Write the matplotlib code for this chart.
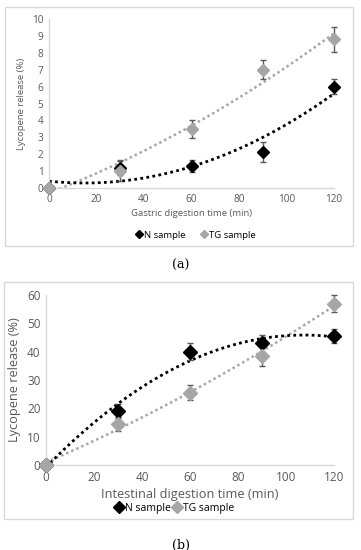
import matplotlib.pyplot as plt
import numpy as np
from matplotlib.lines import Line2D
from matplotlib.patches import Rectangle

# digestion time points (min)
time = [0, 30, 60, 90, 120]

# (a) gastric phase
gas_n = [0, 1.2, 1.3, 2.15, 6.0]
gas_n_err = [0, 0.45, 0.35, 0.6, 0.45]
gas_tg = [0, 1.0, 3.5, 7.0, 8.8]
gas_tg_err = [0, 0.6, 0.55, 0.55, 0.75]

# (b) intestinal phase
int_n = [0, 19.0, 40.0, 43.0, 45.5]
int_n_err = [0, 2.5, 3.0, 3.0, 2.5]
int_tg = [0, 14.5, 25.5, 38.5, 57.0]
int_tg_err = [0, 2.5, 2.7, 3.5, 3.0]

BLACK = "#000000"
GREY = "#a6a6a6"
ERR = "#595959"
AXIS = "#d9d9d9"
TXT = "#595959"


def draw_panel(ax, n, n_err, tg, tg_err, ymax, ystep, xlabel, fs, ms, lab_fs):
    xs = np.linspace(0, 120, 200)
    for vals, col, lw in [(tg, GREY, 1.8), (n, BLACK, 2.0)]:
        coef = np.polyfit(time, vals, 2)
        ax.plot(xs, np.polyval(coef, xs), linestyle=(0, (1, 1.2)), color=col, lw=lw, zorder=2)
    for vals, errs, col in [(n, n_err, BLACK), (tg, tg_err, GREY)]:
        ax.errorbar(time, vals, yerr=errs, fmt="D", ms=ms, color=col, ecolor=ERR,
                    elinewidth=1, capsize=2.5, capthick=1, zorder=3, clip_on=False)
    ax.set_xlim(0, 120)
    ax.set_ylim(0, ymax)
    ax.set_xticks(range(0, 121, 20))
    ax.set_yticks(np.arange(0, ymax + 0.1, ystep))
    for s in ["top", "right"]:
        ax.spines[s].set_visible(False)
    for s in ["left", "bottom"]:
        ax.spines[s].set_color(AXIS)
        ax.spines[s].set_linewidth(1)
    ax.tick_params(length=0, labelsize=fs, colors=TXT, pad=4)
    ax.set_xlabel(xlabel, fontsize=lab_fs, color=TXT, labelpad=3)
    ax.set_ylabel("Lycopene release (%)", fontsize=lab_fs, color=TXT)


def handles(ms):
    return [Line2D([], [], marker="D", ls="none", color=BLACK, ms=ms, label="N sample"),
            Line2D([], [], marker="D", ls="none", color=GREY, ms=ms, label="TG sample")]


plt.rcParams["font.family"] = ["Open Sans", "DejaVu Sans"]
fig = plt.figure(figsize=(3.61, 5.5), dpi=100)

# panel frames
fig.patches.append(Rectangle((5 / 361, 1 - 246 / 550), 348 / 361, 239 / 550,
                             transform=fig.transFigure, fill=False, ec=AXIS, lw=1))
fig.patches.append(Rectangle((4 / 361, 1 - 519 / 550), 349 / 361, 237 / 550,
                             transform=fig.transFigure, fill=False, ec=AXIS, lw=1))

ax1 = fig.add_axes([49 / 361, 1 - 188 / 550, 285 / 361, 169 / 550])
draw_panel(ax1, gas_n, gas_n_err, gas_tg, gas_tg_err, 10, 1,
           "Gastric digestion time (min)", 7.2, 6, 6.8)
ax1.legend(handles=handles(4), loc="center", bbox_to_anchor=(195 / 361, 1 - 235 / 550),
           bbox_transform=fig.transFigure, ncol=2, frameon=False, fontsize=6.8,
           handletextpad=0.1, columnspacing=1.4, handlelength=1, borderpad=0)

ax2 = fig.add_axes([46 / 361, 1 - 465 / 550, 288 / 361, 170 / 550])
draw_panel(ax2, int_n, int_n_err, int_tg, int_tg_err, 60, 10,
           "Intestinal digestion time (min)", 8.5, 7, 9.2)
ax2.legend(handles=handles(6), loc="center", bbox_to_anchor=(174 / 361, 1 - 508 / 550),
           bbox_transform=fig.transFigure, ncol=2, frameon=False, fontsize=7.5,
           handletextpad=0.1, columnspacing=0.1, handlelength=1, borderpad=0)

fig.text(181 / 361, 1 - 265 / 550, "(a)", ha="center", va="center", fontsize=9, family="DejaVu Serif")
fig.text(181 / 361, 1 - 545 / 550, "(b)", ha="center", va="center", fontsize=9, family="DejaVu Serif")

fig.savefig("out.png", dpi=100)
